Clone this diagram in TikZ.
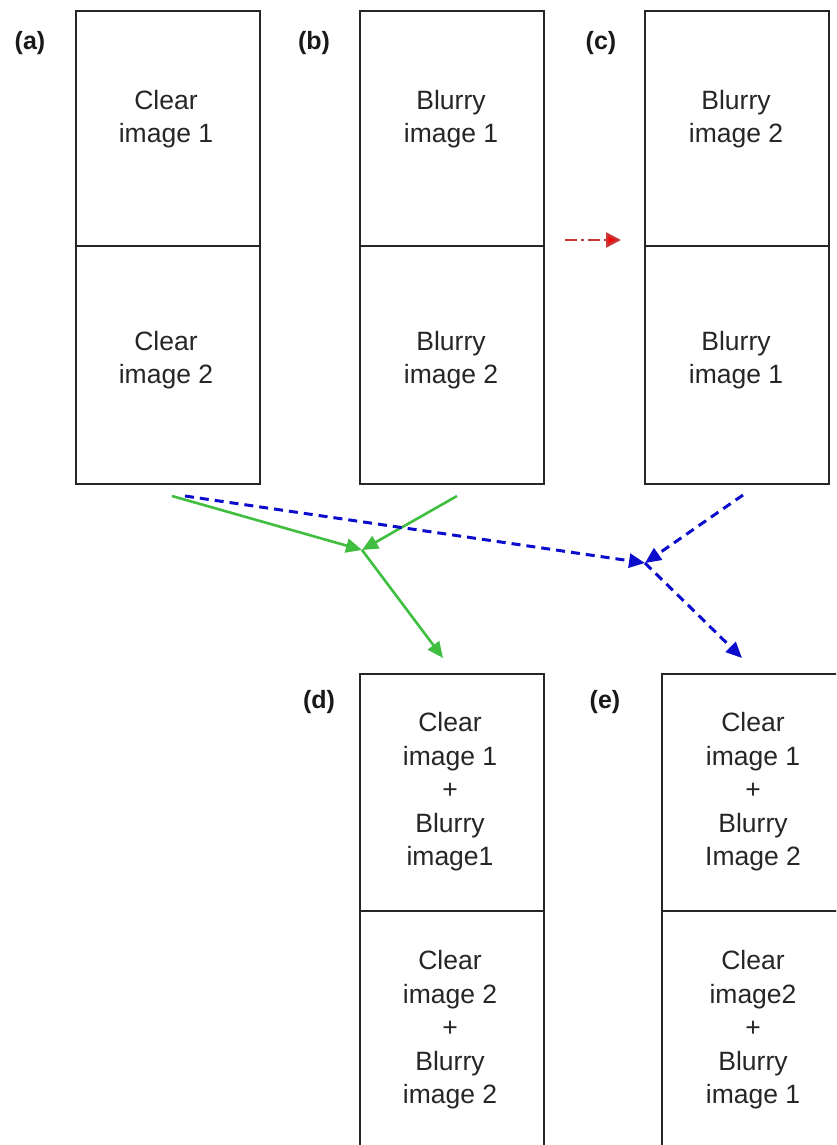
\documentclass[tikz,border=0pt]{standalone}
\usepackage{fontspec}
\setmainfont{Liberation Sans}
\usetikzlibrary{arrows.meta}
\definecolor{garrow}{RGB}{64,190,64}
\definecolor{barrow}{RGB}{12,12,205}
\definecolor{rline}{RGB}{200,55,55}
\definecolor{rhead}{RGB}{245,10,10}
\begin{document}
\begin{tikzpicture}[x=1pt,y=-1pt,
  half/.style={draw=black!85, line width=1.7pt, minimum width=184pt, inner sep=0pt, anchor=north west},
  txt/.style={align=center, font=\fontsize{26.5}{33.5}\selectfont, text=black!85},
  lab/.style={font=\fontsize{25}{30}\selectfont\bfseries, text=black!90},
  garr/.style={draw=garrow, line width=2.6pt, -{Triangle[length=16pt,width=14pt,fill=garrow]}},
  barr/.style={draw=barrow, line width=3pt, dash pattern=on 9pt off 6pt, -{Triangle[length=16pt,width=14pt,fill=barrow]}},
  rarr/.style={draw=rline, line width=2.4pt, dash pattern=on 12pt off 4pt on 3pt off 4pt, -{Triangle[length=15pt,width=15pt,fill=rhead]}}
]
\useasboundingbox (0,0) rectangle (836,1145);
\fill[white] (0,0) rectangle (836,1145);
\clip (0,0) rectangle (836,1145);

% boxes
\node[half, minimum height=235pt] (a1) at (75,10) {};
\node[half, minimum height=238pt] (a2) at (75,245) {};
\node[half, minimum height=235pt] (b1) at (359,10) {};
\node[half, minimum height=238pt] (b2) at (359,245) {};
\node[half, minimum height=235pt] (c1) at (644,10) {};
\node[half, minimum height=238pt] (c2) at (644,245) {};
\node[half, minimum height=237pt] (d1) at (359,673) {};
\node[half, minimum height=237pt] (d2) at (359,910) {};
\node[half, minimum height=237pt] (e1) at (661,673) {};
\node[half, minimum height=237pt] (e2) at (661,910) {};

% labels
\node[lab] (la) at (30,43) {(a)};
\node[lab] (lb) at (314,43) {(b)};
\node[lab] (lc) at (601,43) {(c)};
\node[lab] (ld) at (319,702) {(d)};
\node[lab] (le) at (605,702) {(e)};

% texts
\node[txt] (ta1) at (166,119) {Clear\\image 1};
\node[txt] (ta2) at (166,360) {Clear\\image 2};
\node[txt] (tb1) at (451,119) {Blurry\\image 1};
\node[txt] (tb2) at (451,360) {Blurry\\image 2};
\node[txt] (tc1) at (736,119) {Blurry\\image 2};
\node[txt] (tc2) at (736,360) {Blurry\\image 1};
\node[txt] (td1) at (450,792) {Clear\\image 1\\+\\Blurry\\image1};
\node[txt] (td2) at (450,1030) {Clear\\image 2\\+\\Blurry\\image 2};
\node[txt] (te1) at (753,792) {Clear\\image 1\\+\\Blurry\\Image 2};
\node[txt] (te2) at (753,1030) {Clear\\image2\\+\\Blurry\\image 1};

% connector points
\coordinate (ga) at (172,496);
\coordinate (gb) at (457,496);
\coordinate (gj) at (362,550);
\coordinate (gd) at (443,658);
\coordinate (ba) at (185,496);
\coordinate (bc) at (743,495);
\coordinate (bj) at (645,563);
\coordinate (be) at (742,658);
\coordinate (rs) at (565,240);
\coordinate (re) at (621,240);

% green
\draw[garr] (ga) -- (gj);
\draw[garr] (gb) -- (gj);
\draw[garr] (gj) -- (gd);
% blue
\draw[barr] (ba) -- (bj);
\draw[barr] (bc) -- (bj);
\draw[barr] (bj) -- (be);
% red
\draw[rarr] (rs) -- (re);
\end{tikzpicture}
\end{document}
